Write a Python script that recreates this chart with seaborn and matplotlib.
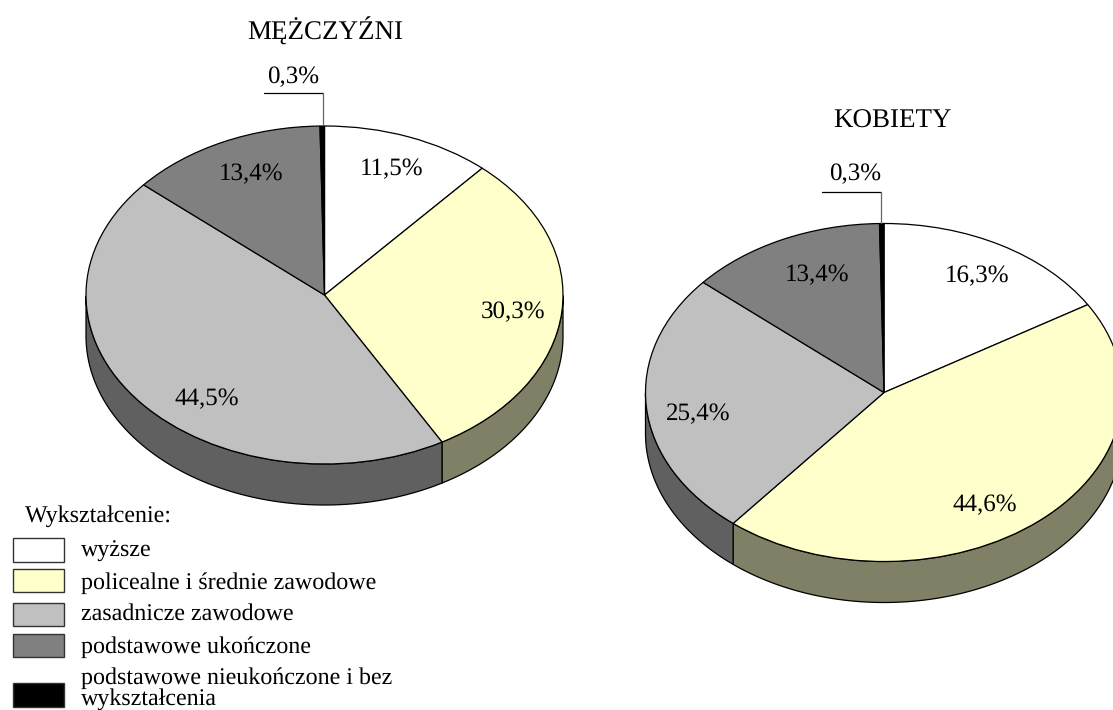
import numpy as np
import matplotlib
matplotlib.use("Agg")
import matplotlib.pyplot as plt
from matplotlib.patches import Rectangle
import seaborn as sns

categories = ["wyższe", "policealne i średnie zawodowe", "zasadnicze zawodowe",
              "podstawowe ukończone", "podstawowe nieukończone i bez\nwykształcenia"]
men = [11.5, 30.3, 44.5, 13.4, 0.3]
women = [16.3, 44.6, 25.4, 13.4, 0.3]
top_colors = ["#FFFFFF", "#FFFFCC", "#C0C0C0", "#808080", "#000000"]
side_colors = ["#808080", "#808066", "#606060", "#404040", "#000000"]

W, H = 1113, 710
RX, RY, DEPTH = 238.5, 169, 41

sns.set_theme(style="white")
plt.rcParams["font.family"] = ["Liberation Serif", "DejaVu Serif"]
plt.rcParams["text.hinting"] = "no_hinting"
plt.rcParams["text.hinting_factor"] = 1

fig = plt.figure(figsize=(W / 100, H / 100), dpi=100)
fig.patch.set_facecolor("white")


def draw_pie(values, cx, cy):
    # axes spans exactly the ellipse, so a unit pie gets squashed
    ax = fig.add_axes([(cx - RX) / W, 1 - (cy + RY) / H, 2 * RX / W, 2 * RY / H])
    d = DEPTH / RY
    angles = 90 - np.cumsum([0] + values) * 3.6
    for i in range(len(values)):
        t = np.radians(np.linspace(angles[i], angles[i + 1], 200))
        t = t[np.sin(t) <= 0]
        if len(t) < 2:
            continue
        xs = np.r_[np.cos(t), np.cos(t)[::-1]]
        ys = np.r_[np.sin(t), np.sin(t)[::-1] - d]
        ax.fill(xs, ys, facecolor=side_colors[i], edgecolor="black", lw=0.9, clip_on=False, zorder=1)
    ax.pie(values, colors=top_colors, startangle=90, counterclock=False, radius=1,
           wedgeprops=dict(edgecolor="black", linewidth=0.9, clip_on=False, zorder=2))
    ax.set_aspect("auto")
    ax.set_xlim(-1, 1)
    ax.set_ylim(-1, 1)
    ax.axis("off")
    return ax


draw_pie(men, 324.5, 295)
draw_pie(women, 884, 392.5)

# overlay in pixel units for texts, leaders and legend
ov = fig.add_axes([0, 0, 1, 1], zorder=5)
ov.set_xlim(0, W)
ov.set_ylim(H, 0)
ov.axis("off")
ov.patch.set_alpha(0)

FS_TITLE, FS_LABEL, FS_LEGEND = 19.5, 17.8, 17.2


def pct(v):
    return f"{v:.1f}%".replace(".", ",")


def put(x, y, s, fs, ha="center"):
    ov.text(x, y, s, ha=ha, va="center", fontsize=fs, color="black")


put(325, 31, "MĘŻCZYŹNI", FS_TITLE)
put(892, 121, "KOBIETY", FS_TITLE)

men_pos = [(392, 169), (513, 312), (207, 399), (251, 174), (293, 77)]
women_pos = [(977, 276), (985, 505), (698, 414), (817, 275), (855, 174)]
for vals, pos in [(men, men_pos), (women, women_pos)]:
    for v, (x, y) in zip(vals, pos):
        put(x, y, pct(v), FS_LABEL)

# leader lines of the 0,3% slices
for x0, x1, y0, y1 in [(264, 323, 93, 124), (822, 881, 192, 223)]:
    ov.plot([x0, x1], [y0, y0], color="black", lw=0.9)
    ov.plot([x1, x1], [y0, y1], color="#666666", lw=0.9)

put(25, 516, "Wykształcenie:", FS_LEGEND, ha="left")
swatches = [(538, 24), (569, 23), (603, 23), (634, 23), (683, 24)]
text_y = [551, 583, 614, 647, None]
for i, (y, h) in enumerate(swatches):
    ov.add_patch(Rectangle((13, y), 51, h, facecolor=top_colors[i], edgecolor="#333333", lw=1))
    if text_y[i] is not None:
        put(81, text_y[i], categories[i], FS_LEGEND, ha="left")
first, second = categories[4].split("\n")
put(81, 678, first, FS_LEGEND, ha="left")
put(81, 699, second, FS_LEGEND, ha="left")

fig.savefig("out.png", dpi=100)
